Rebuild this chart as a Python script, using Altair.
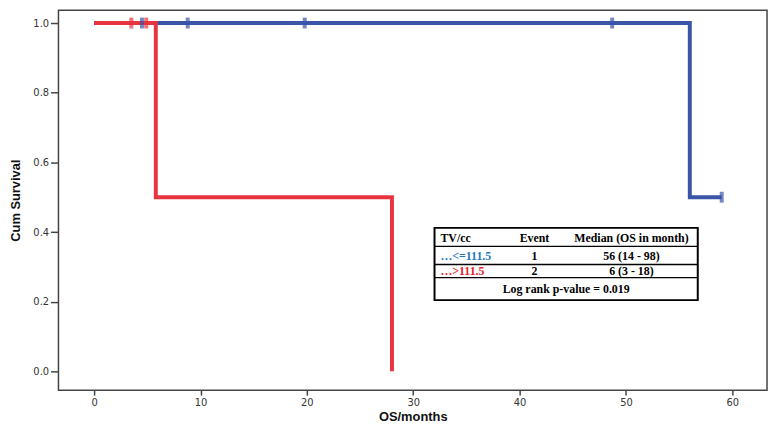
import altair as alt
import pandas as pd

# Kaplan-Meier step data (months, cumulative survival)
blue_t = [0, 56.0, 59.0]
blue_s = [1.0, 0.5, 0.5]
red_t = [0, 5.8, 28.0]
red_s = [1.0, 0.5, 0.0]

# censor marks
blue_cens_t = [4.5, 8.8, 19.8, 48.7, 59.0]
blue_cens_s = [1.0, 1.0, 1.0, 1.0, 0.5]
red_cens_t = [3.5, 4.9]
red_cens_s = [1.0, 1.0]

# table contents
header = ["TV/cc", "Event", "Median (OS in month)"]
groups = ["\u2026<=111.5", "\u2026>111.5"]
events = ["1", "2"]
medians = ["56 (14 - 98)", "6 (3 - 18)"]
pvalue_text = "Log rank p-value = 0.019"

x_ticks = [0, 10, 20, 30, 40, 50, 60]
y_ticks = [0.0, 0.2, 0.4, 0.6, 0.8, 1.0]

BLUE = "#3B55A8"
RED = "#E8343F"
BLUE_TXT = "#2478C0"
RED_TXT = "#E8202A"

xs = alt.Scale(domain=[-3.35, 63.26], nice=False, zero=False)
ys = alt.Scale(domain=[-0.054, 1.037], nice=False, zero=False)

xenc = alt.X("t:Q", scale=xs, axis=alt.Axis(values=x_ticks, title="OS/months", tickSize=5,
             labelPadding=2, titlePadding=4, format="d"))
yenc = alt.Y("s:Q", scale=ys, axis=alt.Axis(values=y_ticks, title="Cum Survival", format=".1f",
             tickSize=8, labelPadding=2, titlePadding=10))

def line(t, s, color):
    df = pd.DataFrame({"t": t, "s": s})
    return alt.Chart(df).mark_line(interpolate="step-after", color=color, strokeWidth=4,
                                   strokeJoin="miter", strokeCap="butt").encode(x=xenc, y=yenc)

def cens(t, s, color):
    df = pd.DataFrame({"t": t, "s": s})
    return alt.Chart(df).mark_tick(orient="vertical", color=color, size=11, thickness=4).encode(x=xenc, y=yenc)

layers = [line(blue_t, blue_s, BLUE), line(red_t, red_s, RED),
          cens(blue_cens_t, blue_cens_s, BLUE), cens(red_cens_t, red_cens_s, RED)]

dummy = alt.Data(values=[{"a": 1}])

# table frame (pixel positions within plot area)
tx0, tx1 = 380, 646
ty0, ty1 = 220, 293
layers.append(alt.Chart(dummy).mark_rect(fill="white", stroke="black", strokeWidth=2).encode(
    x=alt.value(tx0), x2=alt.value(tx1), y=alt.value(ty0), y2=alt.value(ty1)))
for yy in [238.7, 257, 270.3]:
    layers.append(alt.Chart(dummy).mark_rule(color="black", strokeWidth=1.3).encode(
        x=alt.value(tx0), x2=alt.value(tx1), y=alt.value(yy)))

col_x = [386, 481, 579]
col_align = ["left", "center", "center"]
row_y = [230, 248, 264]

def txt(s, x, y, align, color="black"):
    return alt.Chart(dummy).mark_text(text=s, align=align, baseline="middle", font="Liberation Serif",
                                      fontWeight="bold", fontSize=12, color=color).encode(
        x=alt.value(x), y=alt.value(y))

for i, h in enumerate(header):
    layers.append(txt(h, col_x[i], row_y[0], col_align[i]))
for r, (g, e, m, c) in enumerate(zip(groups, events, medians, [BLUE_TXT, RED_TXT])):
    layers.append(txt(g, col_x[0], row_y[r + 1], "left", c))
    layers.append(txt(e, col_x[1], row_y[r + 1], "center"))
    layers.append(txt(m, col_x[2], row_y[r + 1], "center"))
layers.append(txt(pvalue_text, 513, 282, "center"))

chart = alt.layer(*layers).properties(
    width=716, height=384,
    autosize=alt.AutoSizeParams(type="none"),
    padding={"left": 51, "top": 0, "right": 3, "bottom": 32},
).configure_view(stroke="#444444", strokeWidth=1.5).configure_axis(
    domain=False, grid=False, tickColor="#444444", tickWidth=1.5,
    labelFont="DejaVu Sans", labelFontSize=10, labelColor="#333333",
    titleFont="Liberation Sans", titleFontWeight="bold", titleFontSize=13, titleColor="#111111",
)

chart.save("out.html", embed_options={"renderer": "svg", "actions": False})
